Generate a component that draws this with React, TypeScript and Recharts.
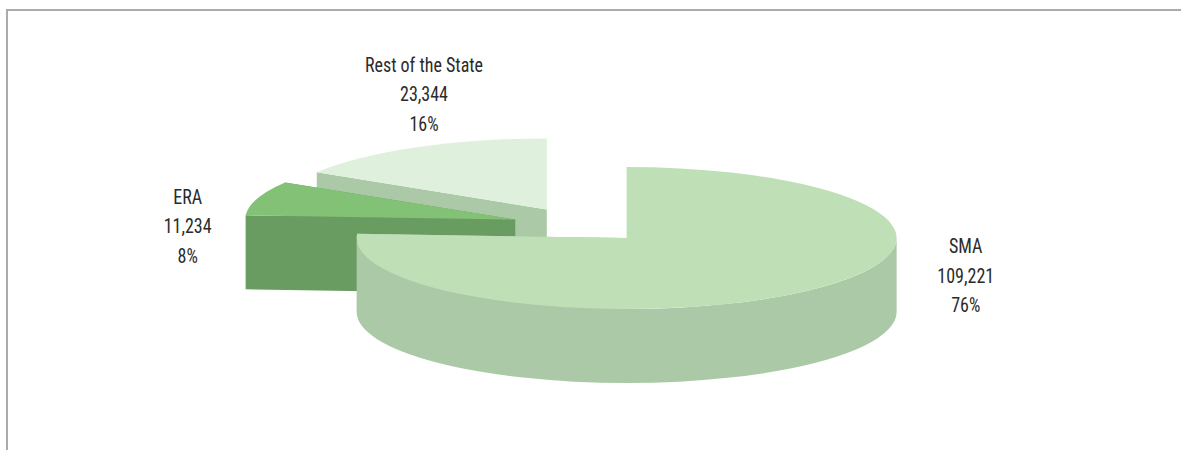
import React from 'react';
import { PieChart, Pie } from 'recharts';

const CATEGORIES = ['Rest of the State', 'ERA', 'SMA'];
const VALUES = [23344, 11234, 109221];

const TOP_COLORS = ['#DFF0DC', '#82C176', '#BFE0B7'];
const SIDE_COLORS = ['#ABC9A6', '#699C60', '#ABC9A6'];
const LABEL_NUDGE = [
    [9, -53],
    [-70, 28],
    [154, -14],
];

const data = CATEGORIES.map((name, i) => ({ name, value: VALUES[i] }));

const SQUASH = 71 / 270;
const DEPTH = 74;
const EXPLODE = 68;
const RAD = Math.PI / 180;
const FONT = '"Liberation Sans Narrow", "Roboto Condensed", "Liberation Sans", sans-serif';

// centre of a slice after it has been pulled out along its own mid angle
const sliceCentre = (cx: number, cy: number, midAngle: number) => ({
    x: cx + EXPLODE * Math.cos(midAngle * RAD),
    y: cy - EXPLODE * SQUASH * Math.sin(midAngle * RAD),
});

const Slice3D = (props: any) => {
    const { cx, cy, outerRadius: rx, startAngle, endAngle, midAngle, name } = props;
    const i = CATEGORIES.indexOf(name);
    const ry = rx * SQUASH;
    const c = sliceCentre(cx, cy, midAngle);
    const a0 = Math.min(startAngle, endAngle);
    const a1 = Math.max(startAngle, endAngle);
    const pt = (a: number) => ({ x: c.x + rx * Math.cos(a * RAD), y: c.y - ry * Math.sin(a * RAD) });
    const p0 = pt(a0);
    const p1 = pt(a1);

    const wall = (p: { x: number; y: number }) =>
        `M${c.x},${c.y} L${p.x},${p.y} L${p.x},${p.y + DEPTH} L${c.x},${c.y + DEPTH} Z`;

    // only the front half of the rim can be seen
    const f0 = Math.max(a0, 180);
    const f1 = Math.min(a1, 360);
    let rim = '';
    if (f1 > f0) {
        const s = pt(f0);
        const e = pt(f1);
        rim = `M${s.x},${s.y} A${rx},${ry} 0 0 0 ${e.x},${e.y} L${e.x},${e.y + DEPTH} A${rx},${ry} 0 0 1 ${s.x},${s.y + DEPTH} Z`;
    }
    const large = a1 - a0 > 180 ? 1 : 0;
    const top = `M${c.x},${c.y} L${p0.x},${p0.y} A${rx},${ry} 0 ${large} 0 ${p1.x},${p1.y} Z`;

    return (
        <g>
            <path d={wall(p1)} fill={SIDE_COLORS[i]} />
            <path d={wall(p0)} fill={SIDE_COLORS[i]} />
            {rim && <path d={rim} fill={SIDE_COLORS[i]} />}
            <path d={top} fill={TOP_COLORS[i]} />
        </g>
    );
};

const SliceLabel = (props: any) => {
    const { cx, cy, outerRadius: rx, midAngle, name, value, percent } = props;
    const i = CATEGORIES.indexOf(name);
    const c = sliceCentre(cx, cy, midAngle);
    const x = c.x + rx * Math.cos(midAngle * RAD) + LABEL_NUDGE[i][0];
    const y = c.y - rx * SQUASH * Math.sin(midAngle * RAD) + LABEL_NUDGE[i][1];
    const lines = [name, value.toLocaleString('en-US'), `${Math.round(percent * 100)}%`];
    return (
        <g>
            {lines.map((line, k) => (
                <text
                    key={line}
                    transform={`translate(${x},${y + (k - 1) * 29.5 + 7}) scale(0.9,1)`}
                    textAnchor="middle"
                    fontFamily={FONT}
                    fontSize={20}
                    fill="#2b2b2b"
                >
                    {line}
                </text>
            ))}
        </g>
    );
};

export default function App() {
    return (
        <div style={{ position: 'fixed', left: 0, top: 0, width: 1181, height: 450, background: '#fff', overflow: 'hidden' }}>
            <div
                style={{
                    position: 'absolute',
                    left: 6,
                    top: 9,
                    width: 1300,
                    height: 600,
                    borderLeft: '2px solid #ababab',
                    borderTop: '2px solid #ababab',
                }}
            />
            <div style={{ position: 'absolute', left: 0, top: 0 }}>
                <PieChart width={1181} height={450} margin={{ top: 0, right: 0, bottom: 0, left: 0 }}>
                    <Pie
                        data={data}
                        dataKey="value"
                        nameKey="name"
                        cx={580}
                        cy={225}
                        innerRadius={0}
                        outerRadius={270}
                        startAngle={90}
                        endAngle={450}
                        stroke="none"
                        isAnimationActive={false}
                        shape={Slice3D}
                        label={SliceLabel}
                        labelLine={false}
                    />
                </PieChart>
            </div>
        </div>
    );
}
